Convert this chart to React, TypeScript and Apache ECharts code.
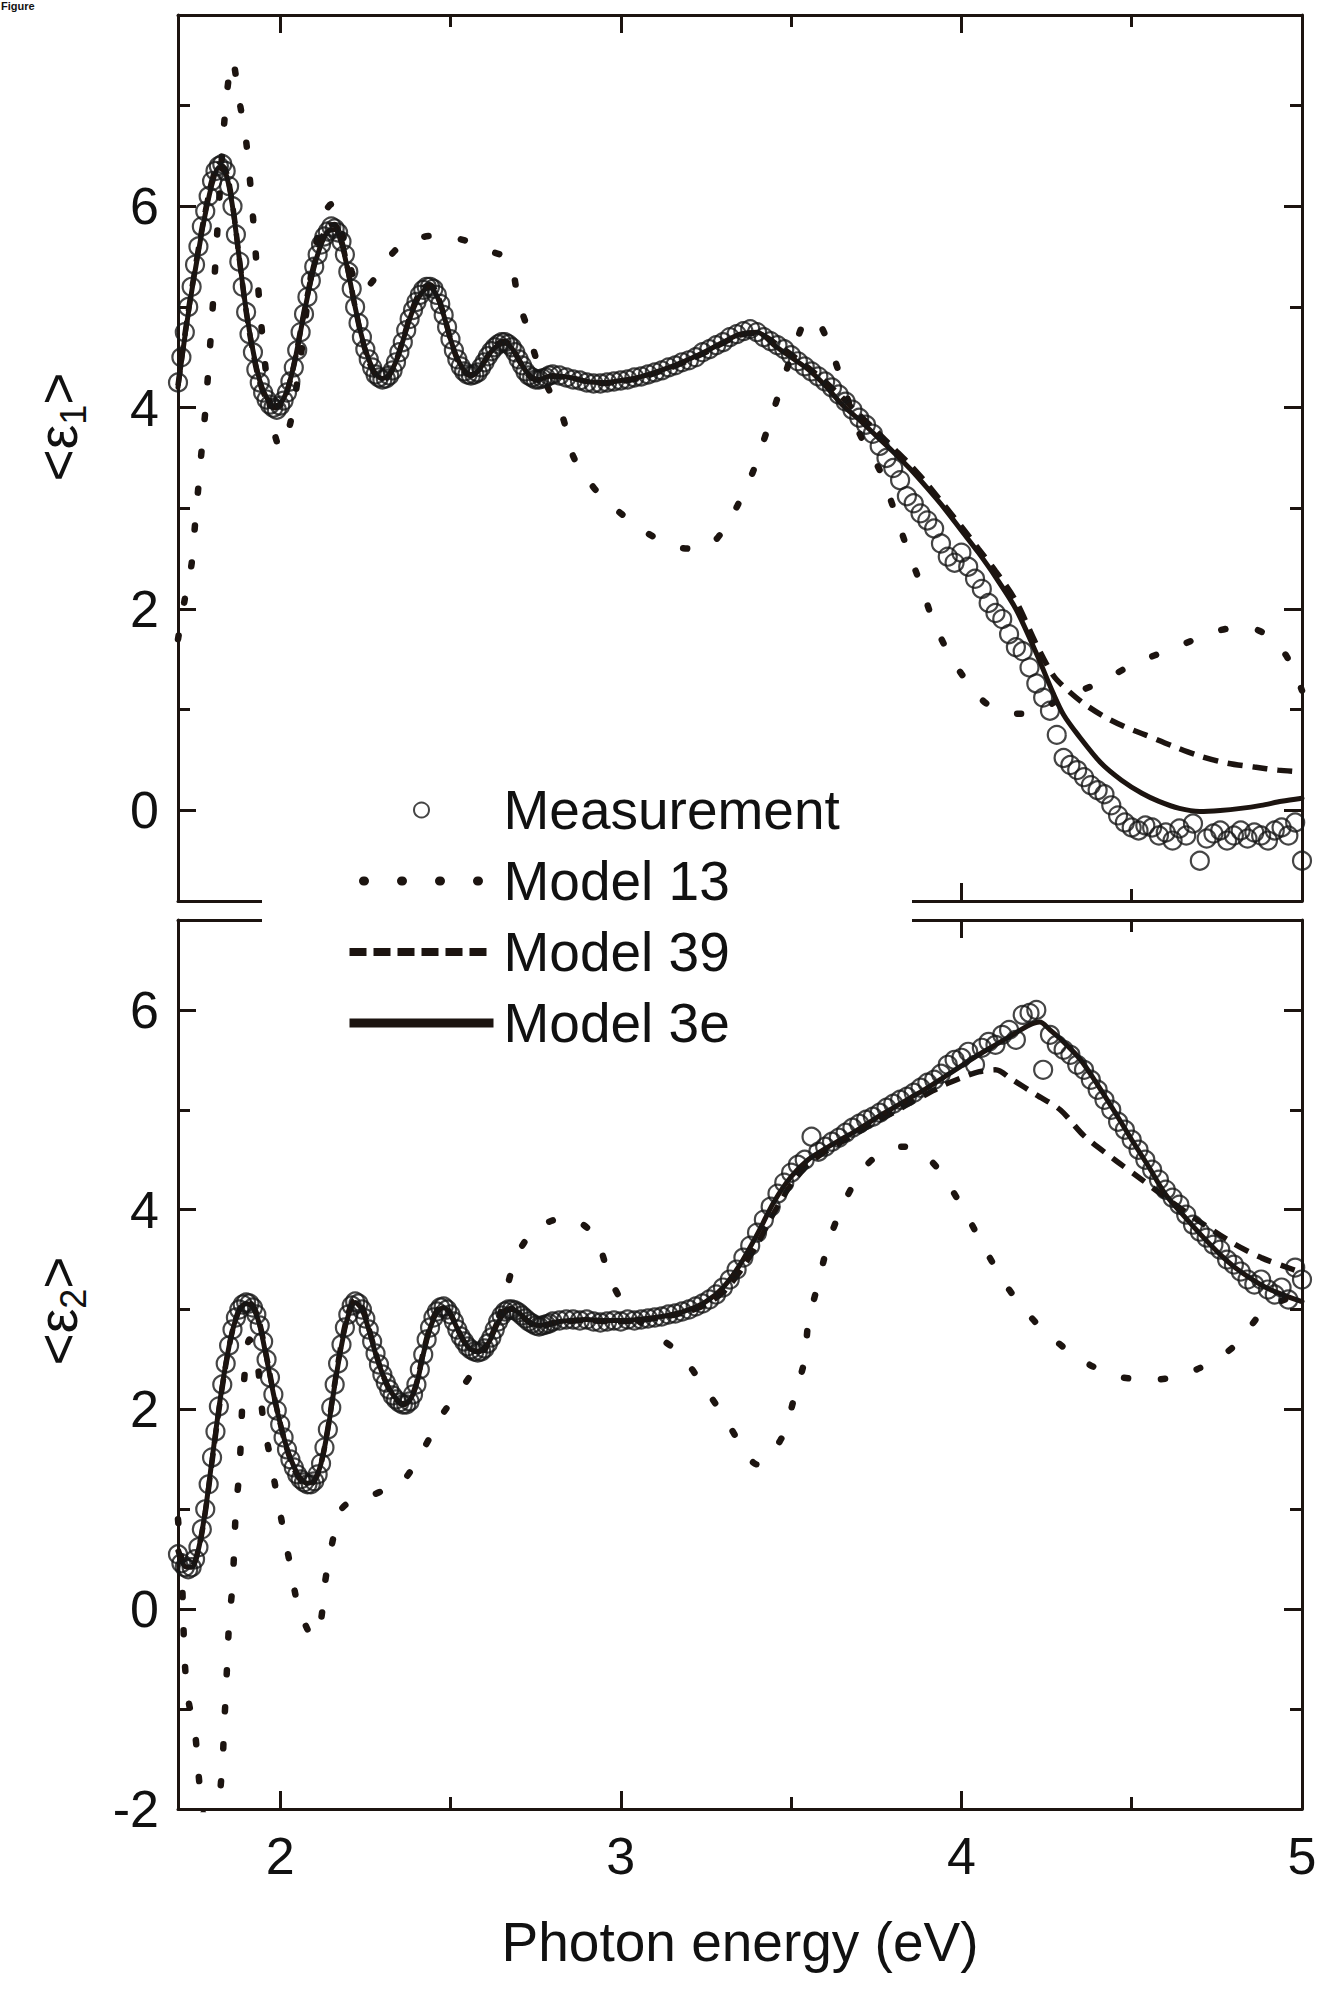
import { useEffect, useRef } from "react";
import * as echarts from "echarts";

const FONT = '"Liberation Sans", Arial, sans-serif';
const INK = "#1c1410";
const TEXT = "#111111";

// ---- axes ----
const X_RANGE = [1.7, 5];
const X_MAJOR = [2, 3, 4, 5];
const X_MINOR = [2.5, 3.5, 4.5];
const E1_RANGE = [-0.9, 7.9];
const E1_MAJOR = [0, 2, 4, 6];
const E1_MINOR = [1, 3, 5, 7];
const E2_RANGE = [-2, 6.9];
const E2_MAJOR = [-2, 0, 2, 4, 6];
const E2_MINOR = [-1, 1, 3, 5];

const LEGEND_NAMES = ["Measurement", "Model 13", "Model 39", "Model 3e"];
const X_TITLE = "Photon energy (eV)";

// ---- <e1> panel ----
const e1Measurement = [
  [1.70,4.25],[1.71,4.5],[1.72,4.75],[1.73,5.0],[1.74,5.2],[1.75,5.42],[1.76,5.6],[1.77,5.8],[1.78,5.95],[1.79,6.1],
  [1.80,6.25],[1.81,6.35],[1.82,6.4],[1.83,6.42],[1.84,6.35],[1.85,6.2],[1.86,6.0],[1.87,5.72],[1.88,5.45],[1.89,5.2],
  [1.90,4.95],[1.91,4.73],[1.92,4.55],[1.93,4.38],[1.94,4.25],[1.95,4.15],[1.96,4.08],[1.97,4.03],[1.98,4.0],[1.99,3.98],
  [2.00,4.02],[2.01,4.07],[2.02,4.15],[2.03,4.26],[2.04,4.4],[2.05,4.57],[2.06,4.75],[2.07,4.93],[2.08,5.1],[2.09,5.26],
  [2.10,5.4],[2.11,5.52],[2.12,5.62],[2.13,5.7],[2.14,5.75],[2.15,5.8],[2.16,5.78],[2.17,5.74],[2.18,5.65],[2.19,5.52],
  [2.20,5.35],[2.21,5.18],[2.22,5.0],[2.23,4.84],[2.24,4.7],[2.25,4.58],[2.26,4.48],[2.27,4.4],[2.28,4.33],[2.29,4.3],
  [2.30,4.28],[2.31,4.29],[2.32,4.32],[2.33,4.37],[2.34,4.45],[2.35,4.55],[2.36,4.65],[2.37,4.77],[2.38,4.88],[2.39,4.97],
  [2.40,5.05],[2.41,5.12],[2.42,5.17],[2.43,5.2],[2.44,5.2],[2.45,5.18],[2.46,5.12],[2.47,5.03],[2.48,4.92],[2.49,4.8],
  [2.50,4.68],[2.51,4.57],[2.52,4.48],[2.53,4.41],[2.54,4.36],[2.55,4.33],[2.56,4.32],[2.57,4.33],[2.58,4.35],[2.59,4.4],
  [2.60,4.45],[2.61,4.51],[2.62,4.56],[2.63,4.6],[2.64,4.63],[2.65,4.65],[2.66,4.65],[2.67,4.63],[2.68,4.6],[2.69,4.55],
  [2.70,4.48],[2.71,4.42],[2.72,4.36],[2.73,4.32],[2.74,4.3],[2.75,4.28],[2.76,4.28],[2.77,4.29],[2.78,4.3],[2.79,4.32],
  [2.80,4.33],[2.82,4.32],[2.84,4.3],[2.86,4.28],[2.88,4.27],[2.90,4.25],[2.92,4.24],[2.94,4.24],[2.96,4.25],[2.98,4.26],
  [3.00,4.27],[3.02,4.28],[3.04,4.3],[3.06,4.31],[3.08,4.33],[3.10,4.35],[3.12,4.37],[3.14,4.4],[3.16,4.42],[3.18,4.45],
  [3.20,4.47],[3.22,4.5],[3.24,4.55],[3.26,4.58],[3.28,4.62],[3.30,4.65],[3.32,4.7],[3.34,4.73],[3.36,4.76],[3.38,4.78],
  [3.40,4.75],[3.42,4.7],[3.44,4.66],[3.46,4.62],[3.48,4.58],[3.50,4.52],[3.52,4.46],[3.54,4.41],[3.56,4.36],[3.58,4.31],
  [3.60,4.26],[3.62,4.2],[3.64,4.13],[3.66,4.06],[3.68,3.98],[3.70,3.9],[3.72,3.83],[3.74,3.74],[3.76,3.62],[3.78,3.5],
  [3.80,3.4],[3.82,3.28],[3.84,3.12],[3.86,3.05],[3.88,2.95],[3.90,2.88],[3.92,2.8],[3.94,2.65],[3.96,2.52],[3.98,2.46],
  [4.00,2.56],[4.02,2.42],[4.04,2.3],[4.06,2.2],[4.08,2.06],[4.10,1.96],[4.12,1.9],[4.14,1.75],[4.16,1.62],[4.18,1.58],
  [4.20,1.42],[4.22,1.26],[4.24,1.12],[4.26,0.99],[4.28,0.75],[4.30,0.52],[4.32,0.45],[4.34,0.4],[4.36,0.33],[4.38,0.25],
  [4.40,0.2],[4.42,0.16],[4.44,0.05],[4.46,-0.05],[4.48,-0.12],[4.50,-0.17],[4.52,-0.2],[4.54,-0.15],[4.56,-0.17],[4.58,-0.25],
  [4.60,-0.22],[4.62,-0.3],[4.64,-0.18],[4.66,-0.25],[4.68,-0.13],[4.70,-0.5],[4.72,-0.28],[4.74,-0.23],[4.76,-0.2],[4.78,-0.3],
  [4.80,-0.25],[4.82,-0.2],[4.84,-0.28],[4.86,-0.22],[4.88,-0.25],[4.90,-0.3],[4.92,-0.2],[4.94,-0.17],[4.96,-0.25],[4.98,-0.12],
  [5.00,-0.5],
];

const e1Model13 = [
  [1.70,1.7],[1.72,2.1],[1.74,2.45],[1.75,2.84],[1.76,3.22],[1.77,3.6],[1.78,3.96],[1.80,4.9],[1.82,6.0],[1.84,7.0],
  [1.86,7.45],[1.88,7.05],[1.90,6.65],[1.92,5.9],[1.94,5.0],[1.96,4.3],[1.98,3.8],[2.00,3.6],[2.03,3.85],[2.06,4.5],
  [2.09,5.3],[2.12,5.85],[2.15,6.02],[2.18,5.75],[2.21,5.35],[2.24,5.15],[2.27,5.25],[2.31,5.45],[2.35,5.6],[2.40,5.68],
  [2.46,5.71],[2.52,5.68],[2.57,5.63],[2.62,5.55],[2.66,5.5],[2.68,5.41],[2.70,5.05],[2.72,4.85],[2.76,4.4],[2.80,4.1],
  [2.83,3.9],[2.86,3.52],[2.90,3.3],[2.94,3.13],[3.00,2.95],[3.08,2.75],[3.15,2.63],[3.20,2.6],[3.26,2.63],[3.30,2.78],
  [3.34,3.01],[3.39,3.38],[3.43,3.78],[3.47,4.2],[3.51,4.6],[3.55,4.88],[3.58,4.85],[3.62,4.55],[3.66,4.15],[3.70,3.75],
  [3.76,3.38],[3.80,3.01],[3.84,2.61],[3.88,2.25],[3.92,1.86],[3.98,1.46],[4.06,1.1],[4.12,0.98],[4.18,0.96],[4.24,1.02],
  [4.30,1.12],[4.40,1.26],[4.51,1.46],[4.63,1.62],[4.74,1.77],[4.80,1.81],[4.86,1.8],[4.92,1.68],[4.96,1.5],[5.00,1.19],
];

const e1Model39 = [
  [1.70,4.22],[1.72,4.72],[1.74,5.17],[1.76,5.58],[1.78,5.95],[1.80,6.26],[1.82,6.42],[1.84,6.36],[1.86,6.02],[1.88,5.48],
  [1.90,4.96],[1.92,4.55],[1.94,4.25],[1.96,4.08],[1.98,4.0],[2.00,4.02],[2.02,4.16],[2.04,4.42],[2.06,4.77],[2.08,5.12],
  [2.10,5.43],[2.12,5.66],[2.14,5.8],[2.16,5.82],[2.18,5.66],[2.20,5.35],[2.22,5.0],[2.24,4.69],[2.26,4.46],[2.28,4.32],
  [2.30,4.27],[2.32,4.32],[2.34,4.46],[2.36,4.67],[2.38,4.9],[2.40,5.08],[2.42,5.19],[2.44,5.22],[2.46,5.13],[2.48,4.93],
  [2.50,4.68],[2.52,4.48],[2.54,4.36],[2.56,4.32],[2.58,4.36],[2.60,4.46],[2.62,4.57],[2.64,4.64],[2.66,4.66],[2.68,4.6],
  [2.70,4.48],[2.72,4.36],[2.74,4.29],[2.76,4.27],[2.78,4.29],[2.80,4.31],[2.85,4.3],[2.90,4.26],[2.95,4.24],[3.00,4.26],
  [3.05,4.29],[3.10,4.34],[3.15,4.4],[3.20,4.47],[3.25,4.55],[3.30,4.64],[3.35,4.72],[3.40,4.74],[3.45,4.65],[3.50,4.53],
  [3.55,4.4],[3.60,4.26],[3.65,4.1],[3.70,3.93],[3.75,3.77],[3.80,3.6],[3.85,3.43],[3.90,3.24],[3.95,3.03],[4.00,2.82],
  [4.05,2.6],[4.10,2.38],[4.16,2.08],[4.22,1.65],[4.27,1.34],[4.31,1.2],[4.36,1.06],[4.42,0.93],[4.48,0.83],[4.54,0.75],
  [4.62,0.64],[4.70,0.54],[4.78,0.47],[4.86,0.43],[4.93,0.4],[5.00,0.38],
];

const e1Model3e = [
  [1.70,4.2],[1.72,4.7],[1.74,5.15],[1.76,5.55],[1.78,5.92],[1.80,6.22],[1.82,6.38],[1.84,6.33],[1.86,6.0],[1.88,5.48],
  [1.90,4.97],[1.92,4.57],[1.94,4.27],[1.96,4.1],[1.98,4.02],[2.00,4.04],[2.02,4.17],[2.04,4.42],[2.06,4.76],[2.08,5.1],
  [2.10,5.4],[2.12,5.62],[2.14,5.75],[2.16,5.77],[2.18,5.63],[2.20,5.34],[2.22,5.0],[2.24,4.7],[2.26,4.48],[2.28,4.34],
  [2.30,4.29],[2.32,4.33],[2.34,4.46],[2.36,4.66],[2.38,4.88],[2.40,5.05],[2.42,5.16],[2.44,5.19],[2.46,5.11],[2.48,4.92],
  [2.50,4.68],[2.52,4.49],[2.54,4.37],[2.56,4.33],[2.58,4.36],[2.60,4.46],[2.62,4.56],[2.64,4.62],[2.66,4.64],[2.68,4.59],
  [2.70,4.48],[2.72,4.37],[2.74,4.3],[2.76,4.28],[2.78,4.3],[2.80,4.32],[2.85,4.3],[2.90,4.26],[2.95,4.25],[3.00,4.27],
  [3.05,4.3],[3.10,4.35],[3.15,4.41],[3.20,4.48],[3.25,4.56],[3.30,4.65],[3.35,4.73],[3.40,4.75],[3.45,4.62],[3.50,4.5],
  [3.55,4.38],[3.60,4.22],[3.65,4.03],[3.70,3.88],[3.75,3.72],[3.80,3.56],[3.85,3.39],[3.90,3.2],[3.95,3.0],[4.00,2.78],
  [4.05,2.56],[4.10,2.32],[4.16,2.0],[4.22,1.56],[4.27,1.16],[4.30,0.95],[4.34,0.76],[4.41,0.47],[4.47,0.3],[4.53,0.17],
  [4.58,0.09],[4.64,0.02],[4.70,-0.01],[4.76,0.0],[4.82,0.02],[4.88,0.05],[4.94,0.09],[5.00,0.12],
];

// ---- <e2> panel ----
const e2Measurement = [
  [1.70,0.55],[1.71,0.46],[1.72,0.42],[1.73,0.4],[1.74,0.42],[1.75,0.5],[1.76,0.62],[1.77,0.8],[1.78,1.0],[1.79,1.25],
  [1.80,1.52],[1.81,1.78],[1.82,2.03],[1.83,2.25],[1.84,2.46],[1.85,2.64],[1.86,2.8],[1.87,2.92],[1.88,3.0],[1.89,3.05],
  [1.90,3.07],[1.91,3.06],[1.92,3.02],[1.93,2.95],[1.94,2.84],[1.95,2.68],[1.96,2.5],[1.97,2.32],[1.98,2.15],[1.99,1.99],
  [2.00,1.85],[2.01,1.72],[2.02,1.6],[2.03,1.5],[2.04,1.42],[2.05,1.35],[2.06,1.3],[2.07,1.27],[2.08,1.25],[2.09,1.25],
  [2.10,1.28],[2.11,1.35],[2.12,1.46],[2.13,1.62],[2.14,1.8],[2.15,2.02],[2.16,2.25],[2.17,2.46],[2.18,2.65],[2.19,2.82],
  [2.20,2.95],[2.21,3.04],[2.22,3.08],[2.23,3.06],[2.24,3.0],[2.25,2.91],[2.26,2.8],[2.27,2.68],[2.28,2.56],[2.29,2.45],
  [2.30,2.35],[2.31,2.27],[2.32,2.2],[2.33,2.14],[2.34,2.1],[2.35,2.07],[2.36,2.05],[2.37,2.05],[2.38,2.08],[2.39,2.15],
  [2.40,2.25],[2.41,2.4],[2.42,2.55],[2.43,2.7],[2.44,2.82],[2.45,2.92],[2.46,2.98],[2.47,3.02],[2.48,3.03],[2.49,3.0],
  [2.50,2.95],[2.51,2.88],[2.52,2.8],[2.53,2.73],[2.54,2.68],[2.55,2.63],[2.56,2.6],[2.57,2.58],[2.58,2.57],[2.59,2.58],
  [2.60,2.61],[2.61,2.66],[2.62,2.72],[2.63,2.8],[2.64,2.88],[2.65,2.94],[2.66,2.98],[2.67,3.0],[2.68,3.0],[2.69,2.99],
  [2.70,2.97],[2.71,2.94],[2.72,2.91],[2.73,2.88],[2.74,2.86],[2.75,2.84],[2.76,2.83],[2.77,2.84],[2.78,2.85],[2.79,2.86],
  [2.80,2.88],[2.82,2.89],[2.84,2.9],[2.86,2.9],[2.88,2.89],[2.90,2.9],[2.92,2.88],[2.94,2.87],[2.96,2.88],[2.98,2.89],
  [3.00,2.88],[3.02,2.9],[3.04,2.89],[3.06,2.9],[3.08,2.91],[3.10,2.92],[3.12,2.93],[3.14,2.95],[3.16,2.96],[3.18,2.98],
  [3.20,3.0],[3.22,3.03],[3.24,3.06],[3.26,3.1],[3.28,3.15],[3.30,3.22],[3.32,3.3],[3.34,3.4],[3.36,3.52],[3.38,3.64],
  [3.40,3.77],[3.42,3.9],[3.44,4.03],[3.46,4.16],[3.48,4.27],[3.50,4.37],[3.52,4.45],[3.54,4.5],[3.56,4.73],[3.58,4.58],
  [3.60,4.63],[3.62,4.68],[3.64,4.72],[3.66,4.77],[3.68,4.82],[3.70,4.86],[3.72,4.9],[3.74,4.93],[3.76,4.97],[3.78,5.02],
  [3.80,5.06],[3.82,5.1],[3.84,5.13],[3.86,5.17],[3.88,5.22],[3.90,5.27],[3.92,5.3],[3.94,5.36],[3.96,5.45],[3.98,5.5],
  [4.00,5.52],[4.02,5.58],[4.04,5.45],[4.06,5.62],[4.08,5.68],[4.10,5.65],[4.12,5.75],[4.14,5.8],[4.16,5.7],[4.18,5.95],
  [4.20,5.97],[4.22,6.0],[4.24,5.4],[4.26,5.75],[4.28,5.65],[4.30,5.6],[4.32,5.55],[4.34,5.45],[4.36,5.4],[4.38,5.3],
  [4.40,5.2],[4.42,5.1],[4.44,5.0],[4.46,4.88],[4.48,4.8],[4.50,4.7],[4.52,4.6],[4.54,4.5],[4.56,4.4],[4.58,4.3],
  [4.60,4.2],[4.62,4.12],[4.64,4.05],[4.66,3.95],[4.68,3.85],[4.70,3.78],[4.72,3.72],[4.74,3.65],[4.76,3.6],[4.78,3.5],
  [4.80,3.45],[4.82,3.38],[4.84,3.3],[4.86,3.25],[4.88,3.3],[4.90,3.2],[4.92,3.15],[4.94,3.22],[4.96,3.1],[4.98,3.42],
  [5.00,3.3],
];

const e2Model13 = [
  [1.70,0.9],[1.71,0.45],[1.72,-0.53],[1.73,-0.9],[1.75,-1.24],[1.76,-1.64],[1.77,-1.95],[1.79,-2.25],[1.81,-2.2],[1.83,-1.57],
  [1.835,-1.2],[1.84,-0.87],[1.845,-0.5],[1.85,-0.14],[1.86,0.24],[1.865,0.6],[1.87,1.0],[1.88,1.37],[1.885,1.73],[1.89,2.1],
  [1.91,2.7],[1.93,2.55],[1.95,1.9],[1.97,1.53],[1.99,1.15],[2.01,0.78],[2.03,0.43],[2.05,0.07],[2.08,-0.2],[2.10,-0.28],
  [2.12,-0.1],[2.13,0.23],[2.15,0.62],[2.18,1.0],[2.22,1.1],[2.26,1.13],[2.31,1.2],[2.36,1.28],[2.42,1.6],[2.48,1.97],
  [2.56,2.35],[2.64,2.9],[2.69,3.5],[2.74,3.78],[2.79,3.88],[2.84,3.92],[2.89,3.85],[2.93,3.7],[2.97,3.3],[3.02,3.0],
  [3.10,2.75],[3.17,2.57],[3.25,2.2],[3.32,1.83],[3.36,1.6],[3.40,1.45],[3.44,1.55],[3.48,1.77],[3.51,2.13],[3.54,2.5],
  [3.55,2.85],[3.58,3.27],[3.61,3.67],[3.65,4.03],[3.71,4.4],[3.77,4.58],[3.83,4.63],[3.89,4.55],[3.94,4.37],[4.01,3.98],
  [4.07,3.6],[4.14,3.2],[4.23,2.83],[4.35,2.5],[4.46,2.33],[4.57,2.3],[4.69,2.4],[4.80,2.63],[4.89,3.0],[4.95,3.1],
  [5.00,3.15],
];

const e2Model39 = [
  [1.70,0.6],[1.72,0.45],[1.74,0.43],[1.76,0.6],[1.78,0.97],[1.80,1.48],[1.82,1.99],[1.84,2.44],[1.86,2.79],[1.88,3.0],
  [1.90,3.08],[1.92,3.04],[1.94,2.86],[1.96,2.53],[1.98,2.17],[2.00,1.86],[2.02,1.6],[2.04,1.41],[2.06,1.29],[2.08,1.24],
  [2.10,1.28],[2.12,1.46],[2.14,1.81],[2.16,2.26],[2.18,2.67],[2.20,2.97],[2.22,3.1],[2.24,3.03],[2.26,2.82],[2.28,2.57],
  [2.30,2.36],[2.32,2.2],[2.34,2.1],[2.36,2.05],[2.38,2.09],[2.40,2.26],[2.42,2.57],[2.44,2.83],[2.46,2.99],[2.48,3.04],
  [2.50,2.96],[2.52,2.81],[2.54,2.68],[2.56,2.6],[2.58,2.58],[2.60,2.62],[2.62,2.74],[2.64,2.89],[2.66,2.99],[2.68,3.01],
  [2.70,2.97],[2.72,2.9],[2.74,2.85],[2.76,2.83],[2.78,2.84],[2.80,2.86],[2.85,2.88],[2.90,2.89],[2.95,2.88],[3.00,2.88],
  [3.05,2.89],[3.10,2.91],[3.15,2.94],[3.20,2.98],[3.25,3.05],[3.30,3.17],[3.35,3.38],[3.40,3.65],[3.45,3.97],[3.50,4.25],
  [3.55,4.45],[3.60,4.58],[3.65,4.68],[3.70,4.78],[3.75,4.88],[3.80,4.97],[3.85,5.07],[3.90,5.16],[3.95,5.25],[4.00,5.32],
  [4.05,5.38],[4.10,5.4],[4.15,5.3],[4.22,5.15],[4.29,5.0],[4.36,4.74],[4.45,4.5],[4.53,4.3],[4.60,4.12],[4.70,3.88],
  [4.80,3.66],[4.88,3.52],[4.95,3.43],[5.00,3.37],
];

const e2Model3e = [
  [1.70,0.58],[1.72,0.43],[1.74,0.42],[1.76,0.6],[1.78,0.98],[1.80,1.5],[1.82,2.01],[1.84,2.45],[1.86,2.79],[1.88,2.99],
  [1.90,3.06],[1.92,3.02],[1.94,2.84],[1.96,2.51],[1.98,2.16],[2.00,1.86],[2.02,1.61],[2.04,1.43],[2.06,1.31],[2.08,1.26],
  [2.10,1.29],[2.12,1.46],[2.14,1.8],[2.16,2.24],[2.18,2.64],[2.20,2.94],[2.22,3.07],[2.24,3.0],[2.26,2.8],[2.28,2.56],
  [2.30,2.36],[2.32,2.21],[2.34,2.11],[2.36,2.06],[2.38,2.09],[2.40,2.25],[2.42,2.55],[2.44,2.81],[2.46,2.97],[2.48,3.02],
  [2.50,2.95],[2.52,2.81],[2.54,2.68],[2.56,2.6],[2.58,2.58],[2.60,2.61],[2.62,2.72],[2.64,2.87],[2.66,2.97],[2.68,3.0],
  [2.70,2.97],[2.72,2.91],[2.74,2.86],[2.76,2.84],[2.78,2.85],[2.80,2.87],[2.85,2.89],[2.90,2.9],[2.95,2.89],[3.00,2.89],
  [3.05,2.9],[3.10,2.92],[3.15,2.95],[3.20,3.0],[3.25,3.08],[3.30,3.22],[3.35,3.45],[3.40,3.75],[3.45,4.08],[3.50,4.33],
  [3.55,4.5],[3.60,4.61],[3.65,4.71],[3.70,4.81],[3.75,4.92],[3.80,5.02],[3.85,5.12],[3.90,5.22],[3.95,5.33],[4.00,5.44],
  [4.05,5.55],[4.10,5.65],[4.15,5.75],[4.20,5.85],[4.23,5.88],[4.26,5.8],[4.30,5.68],[4.35,5.5],[4.40,5.25],[4.45,4.98],
  [4.50,4.7],[4.55,4.43],[4.60,4.15],[4.65,3.95],[4.70,3.76],[4.76,3.55],[4.80,3.43],[4.85,3.31],[4.90,3.21],[4.95,3.14],
  [5.00,3.08],
];

// ---- builders ----
const tickStyle = { color: INK, width: 3 };

function xAxesFor(grid: number, showLabels: boolean) {
  const base = {
    type: "value",
    gridIndex: grid,
    min: X_RANGE[0],
    max: X_RANGE[1],
    splitLine: { show: false },
  };
  const major = { show: true, inside: true, length: 18, customValues: X_MAJOR, lineStyle: tickStyle };
  const minor = { show: true, inside: true, length: 12, customValues: X_MINOR, lineStyle: tickStyle };
  return [
    {
      ...base,
      position: "bottom",
      axisLine: { show: true, onZero: false, lineStyle: tickStyle },
      axisTick: major,
      axisLabel: {
        show: showLabels,
        customValues: X_MAJOR,
        margin: 21,
        fontSize: 52,
        fontFamily: FONT,
        color: TEXT,
      },
    },
    { ...base, position: "bottom", axisLine: { show: false, onZero: false }, axisTick: minor, axisLabel: { show: false } },
    { ...base, position: "top", axisLine: { show: true, onZero: false, lineStyle: tickStyle }, axisTick: major, axisLabel: { show: false } },
    { ...base, position: "top", axisLine: { show: false, onZero: false }, axisTick: minor, axisLabel: { show: false } },
  ];
}

function yAxesFor(grid: number, range: number[], majorVals: number[], minorVals: number[]) {
  const base = {
    type: "value",
    gridIndex: grid,
    min: range[0],
    max: range[1],
    splitLine: { show: false },
  };
  const major = { show: true, inside: true, length: 18, customValues: majorVals, lineStyle: tickStyle };
  const minor = { show: true, inside: true, length: 12, customValues: minorVals, lineStyle: tickStyle };
  return [
    {
      ...base,
      position: "left",
      axisLine: { show: true, onZero: false, lineStyle: tickStyle },
      axisTick: major,
      axisLabel: {
        show: true,
        customValues: majorVals,
        margin: 19,
        fontSize: 52,
        fontFamily: FONT,
        color: TEXT,
      },
    },
    { ...base, position: "left", axisLine: { show: false, onZero: false }, axisTick: minor, axisLabel: { show: false } },
    { ...base, position: "right", axisLine: { show: true, onZero: false, lineStyle: tickStyle }, axisTick: major, axisLabel: { show: false } },
    { ...base, position: "right", axisLine: { show: false, onZero: false }, axisTick: minor, axisLabel: { show: false } },
  ];
}

const clear = "rgba(0,0,0,0)";

function measurementSeries(data: number[][], axis: number) {
  return {
    type: "scatter",
    name: LEGEND_NAMES[0],
    data,
    xAxisIndex: axis,
    yAxisIndex: axis,
    symbol: "circle",
    symbolSize: 18,
    itemStyle: { color: clear, borderColor: "#161616", borderWidth: 2.2 },
    silent: true,
    z: 4,
  };
}

function modelSeries(name: string, data: number[][], axis: number, lineStyle: any) {
  return {
    type: "line",
    name,
    data,
    xAxisIndex: axis,
    yAxisIndex: axis,
    symbol: "none",
    showSymbol: false,
    smooth: 0.3,
    lineStyle: { color: INK, ...lineStyle },
    itemStyle: { color: clear, borderColor: clear, borderWidth: 0 },
    silent: true,
    z: 3,
  };
}

const dotted = { width: 6.5, type: [4, 33], cap: "round" };
const dashed = { width: 5.5, type: [15, 10], cap: "butt" };
const solid = { width: 5, type: "solid", cap: "round" };

function yLabel(sub: string, x: number, y: number) {
  return {
    type: "text",
    x,
    y,
    rotation: Math.PI / 2,
    style: {
      text: "<ε{s|" + sub + "}>",
      fontSize: 55,
      fontFamily: FONT,
      lineHeight: 66,
      fill: TEXT,
      align: "center",
      verticalAlign: "middle",
      textAlign: "center",
      textVerticalAlign: "middle",
      rich: {
        s: { fontSize: 36, fontFamily: FONT, fill: TEXT, lineHeight: 36, verticalAlign: "bottom" },
      },
    },
  };
}

export default function App() {
  const ref = useRef<HTMLDivElement>(null);

  useEffect(() => {
    if (!ref.current) return;
    const chart = echarts.init(ref.current, undefined, { renderer: "svg" });
    const option: any = {
      animation: false,
      backgroundColor: "#ffffff",
      grid: [
        { left: 178, right: 22, top: 15, height: 886 },
        { left: 178, right: 22, top: 920, height: 889 },
      ],
      xAxis: [...xAxesFor(0, false), ...xAxesFor(1, true)],
      yAxis: [
        ...yAxesFor(0, E1_RANGE, E1_MAJOR, E1_MINOR),
        ...yAxesFor(1, E2_RANGE, E2_MAJOR, E2_MINOR),
      ],
      legend: {
        data: [
          { name: LEGEND_NAMES[0] },
          { name: LEGEND_NAMES[1], lineStyle: { width: 9, type: [1, 37], cap: "round", dashOffset: 24 } },
          { name: LEGEND_NAMES[2], lineStyle: { width: 8, type: [17, 7], cap: "butt" } },
          { name: LEGEND_NAMES[3], lineStyle: { width: 9, type: "solid", cap: "butt" } },
        ],
        orient: "vertical",
        left: 345,
        top: 782,
        padding: 0,
        itemWidth: 144,
        itemHeight: 15,
        itemGap: 15,
        selectedMode: false,
        z: 60,
        textStyle: { fontSize: 55, fontFamily: FONT, color: TEXT, lineHeight: 56, padding: [0, 0, 0, 5] },
      },
      series: [
        modelSeries("Model 13", e1Model13, 0, dotted),
        modelSeries("Model 39", e1Model39, 0, dashed),
        modelSeries("Model 3e", e1Model3e, 0, solid),
        measurementSeries(e1Measurement, 0),
        modelSeries("Model 13", e2Model13, 4, dotted),
        modelSeries("Model 39", e2Model39, 4, dashed),
        modelSeries("Model 3e", e2Model3e, 4, solid),
        measurementSeries(e2Measurement, 4),
      ],
      graphic: [
        { type: "rect", z: 50, shape: { x: 262, y: 775, width: 650, height: 285 }, style: { fill: "#ffffff" } },
        {
          type: "text",
          x: 740,
          y: 1942,
          style: {
            text: X_TITLE,
            fontSize: 55,
            fontFamily: FONT,
            fill: TEXT,
            align: "center",
            verticalAlign: "middle",
            textAlign: "center",
            textVerticalAlign: "middle",
          },
        },
        yLabel("1", 58, 427),
        yLabel("2", 58, 1311),
        {
          type: "text",
          x: 1,
          y: 0,
          style: {
            text: "Figure",
            fontSize: 11,
            fontWeight: "bold",
            fontFamily: FONT,
            fill: TEXT,
            verticalAlign: "top",
            textVerticalAlign: "top",
          },
        },
      ],
    };
    chart.setOption(option);
    return () => chart.dispose();
  }, []);

  return (
    <div
      ref={ref}
      style={{ position: "absolute", left: 0, top: 0, width: 1324, height: 1991 }}
    />
  );
}
